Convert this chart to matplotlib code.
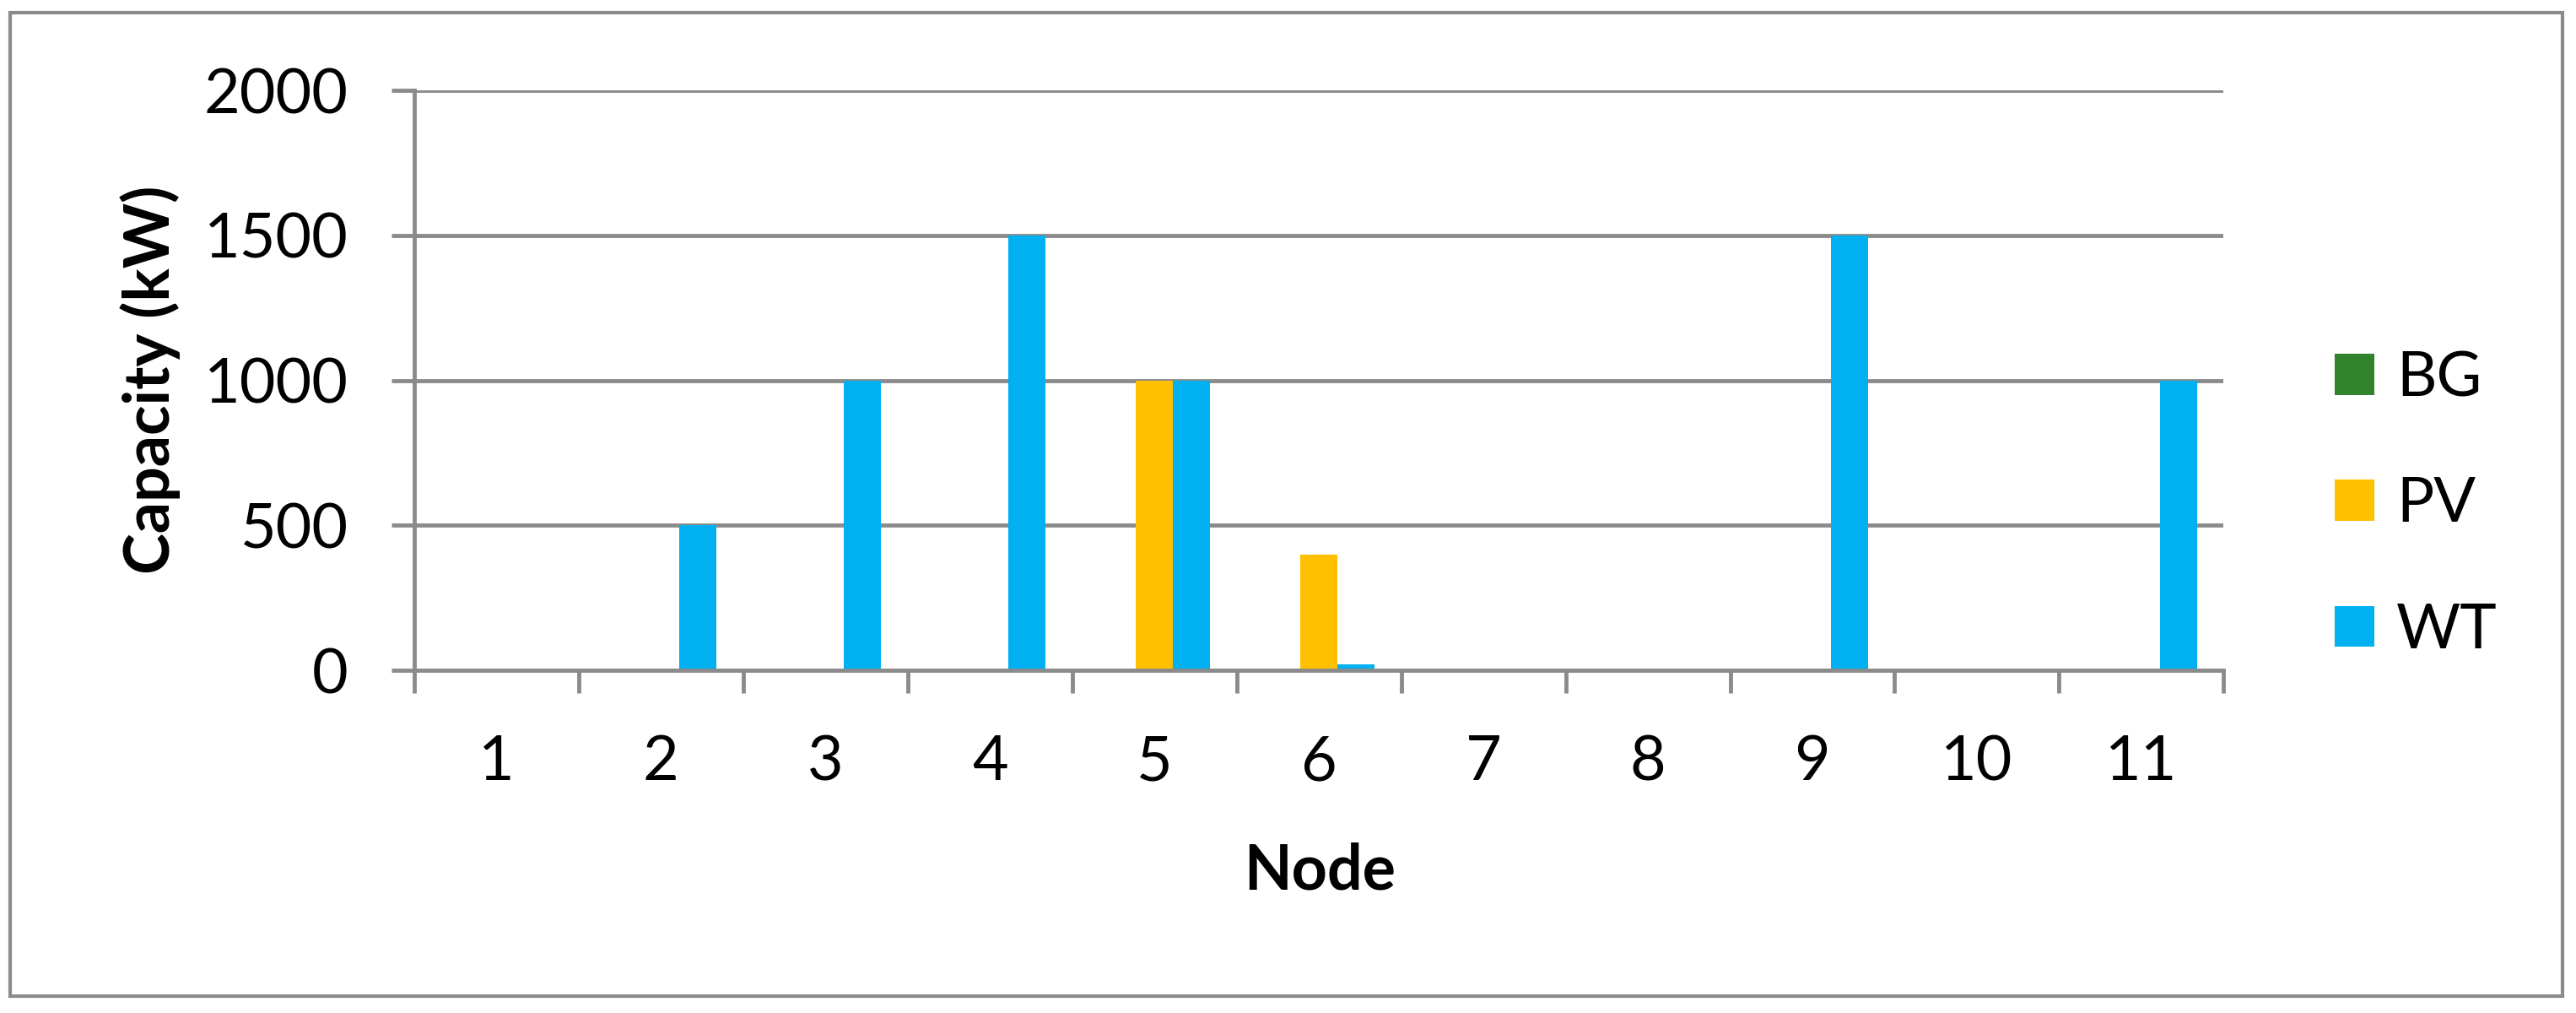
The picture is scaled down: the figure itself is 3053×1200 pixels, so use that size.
"""
Installed capacity per node, grouped bar chart.
"""

import matplotlib

matplotlib.use("Agg")

import matplotlib.pyplot as plt
import numpy as np
from matplotlib.patches import Rectangle

# data
NODES = ["1", "2", "3", "4", "5", "6", "7", "8", "9", "10", "11"]
SERIES = ["BG", "PV", "WT"]
BG = [0, 0, 0, 0, 0, 0, 0, 0, 0, 0, 0]
PV = [0, 0, 0, 0, 1000, 400, 0, 0, 0, 0, 0]
WT = [0, 500, 1000, 1500, 1000, 20, 0, 0, 1500, 0, 1000]
Y_TICKS = [0, 500, 1000, 1500, 2000]

# style
COLORS = ["#31822B", "#FFC000", "#00B0F0"]
GREY = "#8B8B8B"
FONT_SIZE = 53
LINE_WIDTH = 3.5
BAR_WIDTH = 0.225

plt.rcParams["font.family"] = ["Lato", "DejaVu Sans"]


def main():

    fig = plt.figure(figsize=(30.53, 12), dpi=100)

    ax = fig.add_axes([0.1608, 0.3383, 0.7024, 0.5725])

    x = np.arange(1, len(NODES) + 1)

    values = [BG, PV, WT]

    for i, series in enumerate(values):

        ax.bar(
            x + (i - 1) * BAR_WIDTH,
            series,
            width=BAR_WIDTH,
            color=COLORS[i],
            label=SERIES[i],
            zorder=3,
        )

    ax.set_xlim(0.5, len(NODES) + 0.5)
    ax.set_ylim(Y_TICKS[0], Y_TICKS[-1])

    # boundaries get the tick marks, centres get the labels
    ax.set_xticks(np.arange(0.5, len(NODES) + 1, 1.0))
    ax.set_xticklabels([])
    ax.set_xticks(x, minor=True)
    ax.set_xticklabels(NODES, minor=True)

    ax.tick_params(
        axis="x",
        which="major",
        direction="out",
        length=19.4,
        width=LINE_WIDTH,
        color=GREY,
    )

    ax.tick_params(
        axis="x",
        which="minor",
        length=0,
        pad=55,
        labelsize=FONT_SIZE,
    )

    ax.set_yticks(Y_TICKS)
    ax.set_yticklabels([str(v) for v in Y_TICKS])

    ax.tick_params(
        axis="y",
        direction="out",
        length=19.4,
        width=LINE_WIDTH,
        color=GREY,
        pad=37,
        labelsize=FONT_SIZE,
    )

    ax.yaxis.grid(True, color=GREY, linewidth=LINE_WIDTH, zorder=1)
    ax.set_axisbelow(True)

    for side in ["top", "right"]:
        ax.spines[side].set_visible(False)

    for side in ["left", "bottom"]:
        ax.spines[side].set_color(GREY)
        ax.spines[side].set_linewidth(LINE_WIDTH)
        ax.spines[side].set_zorder(4)

    fig.text(
        0.0583,
        1 - 450 / 1200,
        "Capacity (kW)",
        rotation=90,
        ha="center",
        va="center",
        fontsize=FONT_SIZE,
        fontweight="bold",
    )

    fig.text(
        1564 / 3053,
        1 - 1054 / 1200,
        "Node",
        ha="center",
        va="baseline",
        fontsize=FONT_SIZE,
        fontweight="bold",
    )

    ax.legend(
        loc="center left",
        bbox_to_anchor=(2767 / 3053, 1 - 598 / 1200),
        bbox_transform=fig.transFigure,
        frameon=False,
        fontsize=FONT_SIZE,
        borderpad=0,
        borderaxespad=0,
        handlelength=0.64,
        handleheight=0.64,
        handletextpad=0.35,
        labelspacing=1.12,
    )

    # outer chart border
    fig.patches.append(
        Rectangle(
            (12 / 3053, 1 - 1180 / 1200),
            (3037 - 12) / 3053,
            (1180 - 15) / 1200,
            transform=fig.transFigure,
            fill=False,
            edgecolor=GREY,
            linewidth=3.0,
        )
    )

    fig.savefig("out.png", dpi=100)

    plt.close(fig)


if __name__ == "__main__":
    main()
